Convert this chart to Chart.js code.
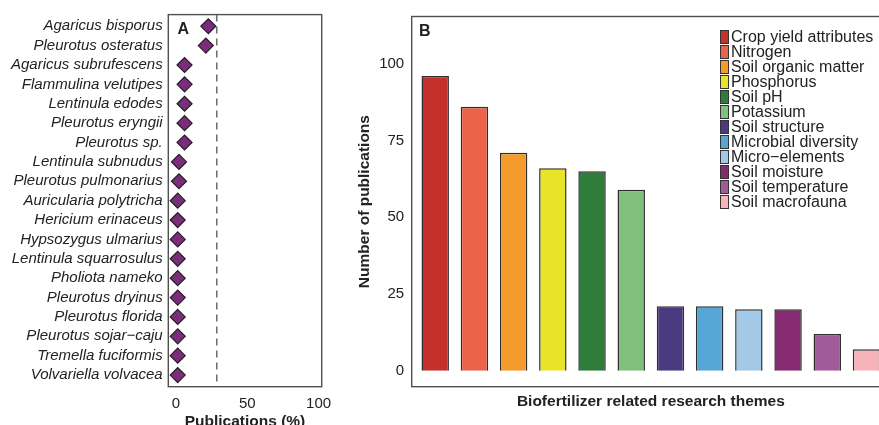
<!DOCTYPE html>
<html lang="en">
<head>
<meta charset="UTF-8">
<title>Mushroom species and biofertilizer research themes</title>
<script src="https://cdn.jsdelivr.net/npm/chart.js"></script>
<style>
  body { margin: 0; background: #fff; width: 879px; height: 425px; overflow: hidden; position: relative;
         font-family: "Liberation Sans", Arial, sans-serif; color: #222; }
  #chartA { position: absolute; left: 0; top: 0; }
  #chartB { position: absolute; left: 350px; top: 0; }
  .tag { position: absolute; font-weight: bold; font-size: 16px; line-height: 16px; }
  #legendB { position: absolute; left: 720px; top: 29px; margin: 0; padding: 0; list-style: none; }
  #legendB li { display: flex; align-items: center; height: 15px; font-size: 16px; white-space: nowrap; }
  #legendB .box { width: 9px; height: 14px; border: 1px solid #333; box-sizing: border-box; margin-right: 2px; }
</style>
</head>
<body>

<canvas id="chartA" width="340" height="440"></canvas>
<canvas id="chartB" width="560" height="440"></canvas>
<div class="tag" style="left:177.5px; top:21px;">A</div>
<div class="tag" style="left:419px; top:23px;">B</div>
<ul id="legendB"></ul>

<script>
// panel A - share of publications per mushroom species
const species = [
  "Agaricus bisporus", "Pleurotus osteratus", "Agaricus subrufescens", "Flammulina velutipes",
  "Lentinula edodes", "Pleurotus eryngii", "Pleurotus sp.", "Lentinula subnudus",
  "Pleurotus pulmonarius", "Auricularia polytricha", "Hericium erinaceus", "Hypsozygus ulmarius",
  "Lentinula squarrosulus", "Pholiota nameko", "Pleurotus dryinus", "Pleurotus florida",
  "Pleurotus sojar\u2212caju", "Tremella fuciformis", "Volvariella volvacea"
];
const speciesPct = [22.7, 20.9, 6.0, 6.0, 6.0, 6.0, 6.0, 2.1, 2.1, 1.2, 1.2, 1.2, 1.2, 1.2, 1.2, 1.2, 1.2, 1.2, 1.2];
const thresholdPct = 28.6;
const pctTicks = [0, 50, 100];

// panel B - number of publications per research theme
const themes = [
  "Crop yield attributes", "Nitrogen", "Soil organic matter", "Phosphorus", "Soil pH", "Potassium",
  "Soil structure", "Microbial diversity", "Micro\u2212elements", "Soil moisture", "Soil temperature", "Soil macrofauna"
];
const themeCounts = [96, 86, 71, 66, 65, 59, 21, 21, 20, 20, 12, 7];
const themeColors = [
  "#C4302B", "#EB634B", "#F39C2B", "#E9E42A", "#2E7D3A", "#80BF7C",
  "#4A3A7F", "#56A6D6", "#A2CAE8", "#862B72", "#A25B9A", "#F8B2BA"
];
const countTicks = [0, 25, 50, 75, 100];

Chart.defaults.font.family = '"Liberation Sans", Arial, sans-serif';
Chart.defaults.color = "#222";

// box around the plotting area
const frame = {
  id: "frame",
  afterDraw(chart) {
    const { ctx, chartArea: a } = chart;
    ctx.save();
    ctx.strokeStyle = "#505050";
    ctx.lineWidth = 1.4;
    ctx.strokeRect(a.left, a.top, a.right - a.left, a.bottom - a.top);
    ctx.restore();
  }
};

const titleFont = { size: 15.5, weight: "bold" };

new Chart(document.getElementById("chartA"), {
  type: "scatter",
  data: {
    datasets: [
      {
        type: "line",
        data: [{ x: thresholdPct, y: 0.4 }, { x: thresholdPct, y: species.length + 0.6 }],
        borderColor: "#6f6f6f",
        borderWidth: 1.5,
        borderDash: [7, 5],
        pointRadius: 0,
        fill: false
      },
      {
        data: species.map((s, i) => ({ x: speciesPct[i], y: i + 1 })),
        pointStyle: "rectRot",
        pointRadius: 7.5,
        backgroundColor: "#7B2C7A",
        borderColor: "#222",
        borderWidth: 1.2
      }
    ]
  },
  options: {
    responsive: false,
    animation: false,
    layout: { padding: { left: 0, top: 14, right: 18.3, bottom: 0 } },
    plugins: { legend: { display: false }, tooltip: { enabled: false } },
    scales: {
      x: {
        type: "linear", min: -5.4, max: 102.2,
        grid: { display: false, drawTicks: false },
        border: { display: false },
        afterBuildTicks: s => { s.ticks = pctTicks.map(v => ({ value: v })); },
        ticks: { padding: 8.3, font: { size: 15 } },
        title: { display: true, text: "Publications (%)", font: titleFont, padding: { top: 0, bottom: 9 } },
        afterFit: s => { s.height = 53.3; }
      },
      y: {
        type: "linear", reverse: true, min: 0.4, max: species.length + 0.6,
        grid: { display: false, drawTicks: false },
        border: { display: false },
        afterBuildTicks: s => { s.ticks = species.map((_, i) => ({ value: i + 1 })); },
        ticks: { autoSkip: false, padding: 5.6, font: { size: 15, style: "italic" }, callback: v => species[v - 1] },
        afterFit: s => { s.width = 168.3; }
      }
    }
  },
  plugins: [frame]
});

const chartB = new Chart(document.getElementById("chartB"), {
  type: "bar",
  data: {
    labels: themes,
    datasets: [{
      data: themeCounts.map((v, i) => ({ x: i + 1, y: v })),
      backgroundColor: themeColors,
      borderColor: "#2f2f2f",
      borderWidth: 1.5,
      categoryPercentage: 1,
      barPercentage: 0.7
    }]
  },
  options: {
    responsive: false,
    animation: false,
    layout: { padding: { left: 0, top: 14, right: 20, bottom: 0 } },
    plugins: { legend: { display: false }, tooltip: { enabled: false } },
    scales: {
      x: {
        type: "linear", offset: false, min: 0.4, max: themes.length + 0.6,
        grid: { display: false, drawTicks: false, offset: false },
        border: { display: false },
        afterBuildTicks: s => { s.ticks = themes.map((_, i) => ({ value: i + 1 })); },
        ticks: { display: false },
        title: { display: true, text: "Biofertilizer related research themes", font: titleFont, padding: { top: 0, bottom: 29 } },
        afterFit: s => { s.height = 53.3; }
      },
      y: {
        min: -5.2, max: 115.4,
        grid: { display: false, drawTicks: false },
        border: { display: false },
        afterBuildTicks: s => { s.ticks = countTicks.map(v => ({ value: v })); },
        ticks: { padding: 7.5, font: { size: 15 } },
        title: { display: true, text: "Number of publications", font: titleFont, padding: { top: 5.7, bottom: 0 } },
        afterFit: s => { s.width = 61.7; }
      }
    }
  },
  plugins: [frame]
});

// legend for panel B, built from the chart data
const legend = document.getElementById("legendB");
themes.forEach((t, i) => {
  const li = document.createElement("li");
  const box = document.createElement("span");
  box.className = "box";
  box.style.background = chartB.data.datasets[0].backgroundColor[i];
  li.appendChild(box);
  li.appendChild(document.createTextNode(t));
  legend.appendChild(li);
});
</script>

</body>
</html>
